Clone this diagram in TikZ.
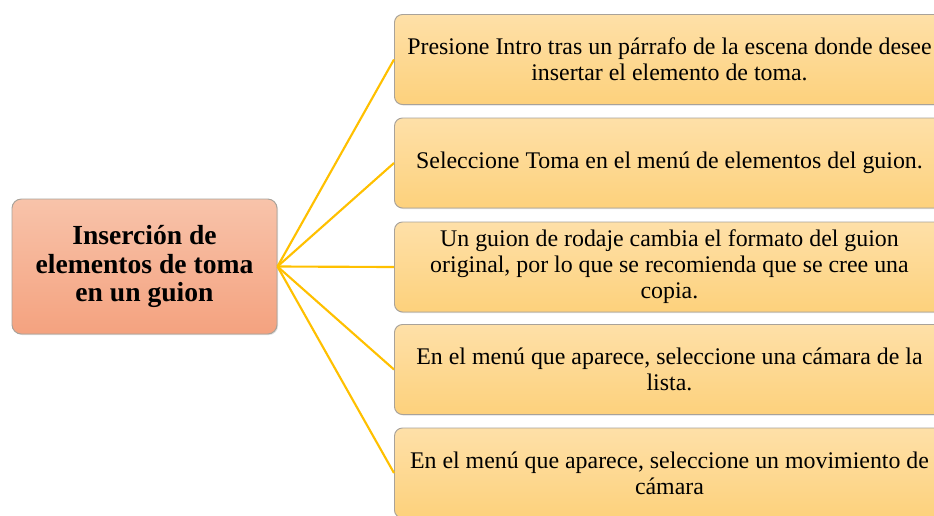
\documentclass[tikz,border=0pt]{standalone}
\usepackage{fontspec}
\setmainfont{Liberation Serif}
\usetikzlibrary{shadows}
\definecolor{conncol}{HTML}{FFC000}
\definecolor{leaftop}{HTML}{FEE0A8}
\definecolor{leafbot}{HTML}{FDD17C}
\definecolor{roottop}{HTML}{F8C3AA}
\definecolor{rootbot}{HTML}{F4A27F}
\definecolor{edgecol}{HTML}{A8A29A}
\begin{document}
\begin{tikzpicture}[x=0.75pt,y=-0.75pt,
  leaf/.style={draw=edgecol, line width=0.7pt, rounded corners=6pt,
    top color=leaftop, bottom color=leafbot,
    minimum width=412.5pt, minimum height=67.5pt, inner sep=0pt,
    align=center, font=\fontsize{17.9}{19.5}\selectfont,
    drop shadow={opacity=0.25, shadow xshift=0.8pt, shadow yshift=-0.8pt}},
  root/.style={draw=edgecol, line width=0.7pt, rounded corners=7pt,
    top color=roottop, bottom color=rootbot,
    minimum width=198.75pt, minimum height=101.25pt, inner sep=0pt,
    align=center, font=\fontsize{20.7}{21.4}\selectfont\bfseries,
    drop shadow={opacity=0.25, shadow xshift=0.8pt, shadow yshift=-0.8pt}},
  conn/.style={draw=conncol, line width=1.6pt}]
\useasboundingbox (0,0) rectangle (934,515);
\begin{scope}
\clip (0,0) rectangle (934,515);
\node[root] (r) at (144.5,266.5) {Inserción de\\elementos de toma\\en un guion};
\node[leaf, anchor=west] (l1) at (394,59.5) {Presione Intro tras un párrafo de la escena donde desee\\insertar el elemento de toma.};
\node[leaf, anchor=west] (l2) at (394,163) {Seleccione Toma en el menú de elementos del guion.};
\node[leaf, anchor=west] (l3) at (394,267) {Un guion de rodaje cambia el formato del guion\\original, por lo que se recomienda que se cree una\\copia.};
\node[leaf, anchor=west] (l4) at (394,369.5) {En el menú que aparece, seleccione una cámara de la\\lista.};
\node[leaf, anchor=west] (l5) at (394,473) {En el menú que aparece, seleccione un movimiento de\\cámara};
\foreach \n in {l1,l2,l3,l4,l5} \draw[conn] (r.east) -- (\n.west);
\end{scope}
\end{tikzpicture}
\end{document}
